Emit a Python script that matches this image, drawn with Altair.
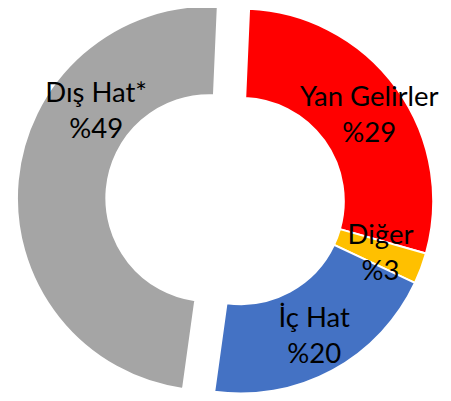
import math
import altair as alt
import pandas as pd

# Data
categories = ["Yan Gelirler", "Diğer", "İç Hat", "Dış Hat*"]
shares = [28.7, 2.6, 20.2, 48.5]
colors = ["#FF0000", "#FFC000", "#4472C4", "#A5A5A5"]

df = pd.DataFrame({"category": categories, "share": shares, "order": list(range(len(categories)))})

ROT = math.radians(2.5)
CX, CY = 237, 193
R_OUT, R_IN = 196, 105

base = (
    alt.Chart(df)
    .transform_joinaggregate(total="sum(share)")
    .transform_window(cum="sum(share)", sort=[alt.SortField("order")], frame=[None, 0])
    .transform_calculate(
        t1=f"{ROT} + 2*PI*datum.cum/datum.total",
        t0=f"{ROT} + 2*PI*(datum.cum - datum.share)/datum.total",
    )
    .transform_calculate(
        mid="(datum.t0 + datum.t1)/2",
        ex="datum.category === 'Dış Hat*' ? 32 : 0",
        la="datum.category === 'Dış Hat*' ? 0.56 : (datum.category === 'Yan Gelirler' ? 0.04 : 0)",
        lr="datum.category === 'Dış Hat*' ? 145 : (datum.category === 'Diğer' ? 152 : 157)",
        label="datum.category + '\\n%' + round(datum.share)",
    )
    .transform_calculate(
        cx=f"{CX} + datum.ex*sin(datum.mid)",
        cy=f"{CY} - datum.ex*cos(datum.mid)",
    )
    .transform_calculate(
        lx="datum.cx + datum.lr*sin(datum.mid + datum.la)",
        ly="datum.cy - datum.lr*cos(datum.mid + datum.la)",
    )
)

arcs = base.mark_arc(radius=R_OUT, radius2=R_IN, stroke="white", strokeWidth=2).encode(
    theta=alt.Theta("t0:Q", scale=None),
    theta2="t1:Q",
    x=alt.X("cx:Q", scale=None, axis=None),
    y=alt.Y("cy:Q", scale=None, axis=None),
    color=alt.Color("category:N", scale=alt.Scale(domain=categories, range=colors), legend=None),
)

labels = base.mark_text(
    font="Lato", fontSize=28, lineBreak="\n", lineHeight=37, dy=-18,
    align="center", baseline="middle", color="black",
).encode(
    x=alt.X("lx:Q", scale=None, axis=None),
    y=alt.Y("ly:Q", scale=None, axis=None),
    text="label:N",
)

chart = (
    alt.layer(arcs, labels)
    .properties(width=443, height=393, autosize=alt.AutoSizeParams(type="none"), padding=0)
    .configure_view(stroke=None)
)

chart.save("out.html", embed_options={"renderer": "svg", "actions": False})
